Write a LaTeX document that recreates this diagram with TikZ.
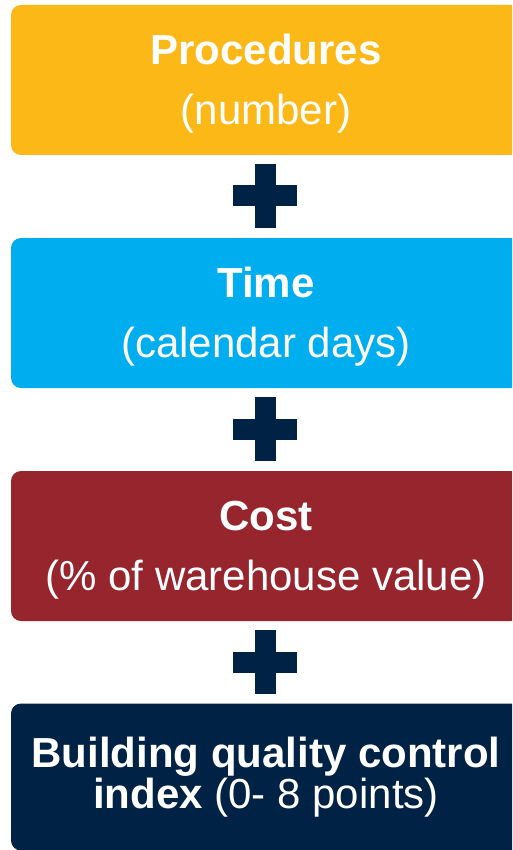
\documentclass[tikz,border=0pt]{standalone}
\usepackage{fontspec}
\setmainfont{Liberation Sans}
\definecolor{cproc}{HTML}{FCB817}
\definecolor{ctime}{HTML}{00AEEF}
\definecolor{ccost}{HTML}{97252E}
\definecolor{cnavy}{HTML}{002244}
\newcommand{\topstrut}{\rule{0pt}{37pt}}
\tikzset{
  box/.style={rectangle, rounded corners=10pt, minimum width=510pt, minimum height=150pt,
    inner sep=0pt, text=white, align=center, font=\fontsize{42}{60}\selectfont},
  plusbar/.style={rectangle, fill=cnavy, inner sep=0pt},
}
\begin{document}
\begin{tikzpicture}[x=1pt,y=-1pt]
\clip (0,0) rectangle (512,850);
\fill[white] (0,0) rectangle (512,850);
\node[box, fill=cproc] (proc) at (266,80) {\topstrut\textbf{Procedures}\\(number)};
\node[box, fill=ctime] (time) at (266,313) {\topstrut\textbf{Time}\\(calendar days)};
\node[box, fill=ccost] (cost) at (266,546) {\topstrut\textbf{Cost}\\(\% of warehouse value)};
\node[box, fill=cnavy, minimum height=147pt, font=\fontsize{42}{41}\selectfont] (qual) at (266,777) {\textbf{Building quality control}\\\textbf{index} (0- 8 points)};
\foreach \n/\y in {1/196,2/429,3/662}{
  \node[plusbar, minimum width=64pt, minimum height=21pt] (ph\n) at (265,\y) {};
  \node[plusbar, minimum width=21pt, minimum height=64pt] (pv\n) at (265,\y) {};
}
\end{tikzpicture}
\end{document}
